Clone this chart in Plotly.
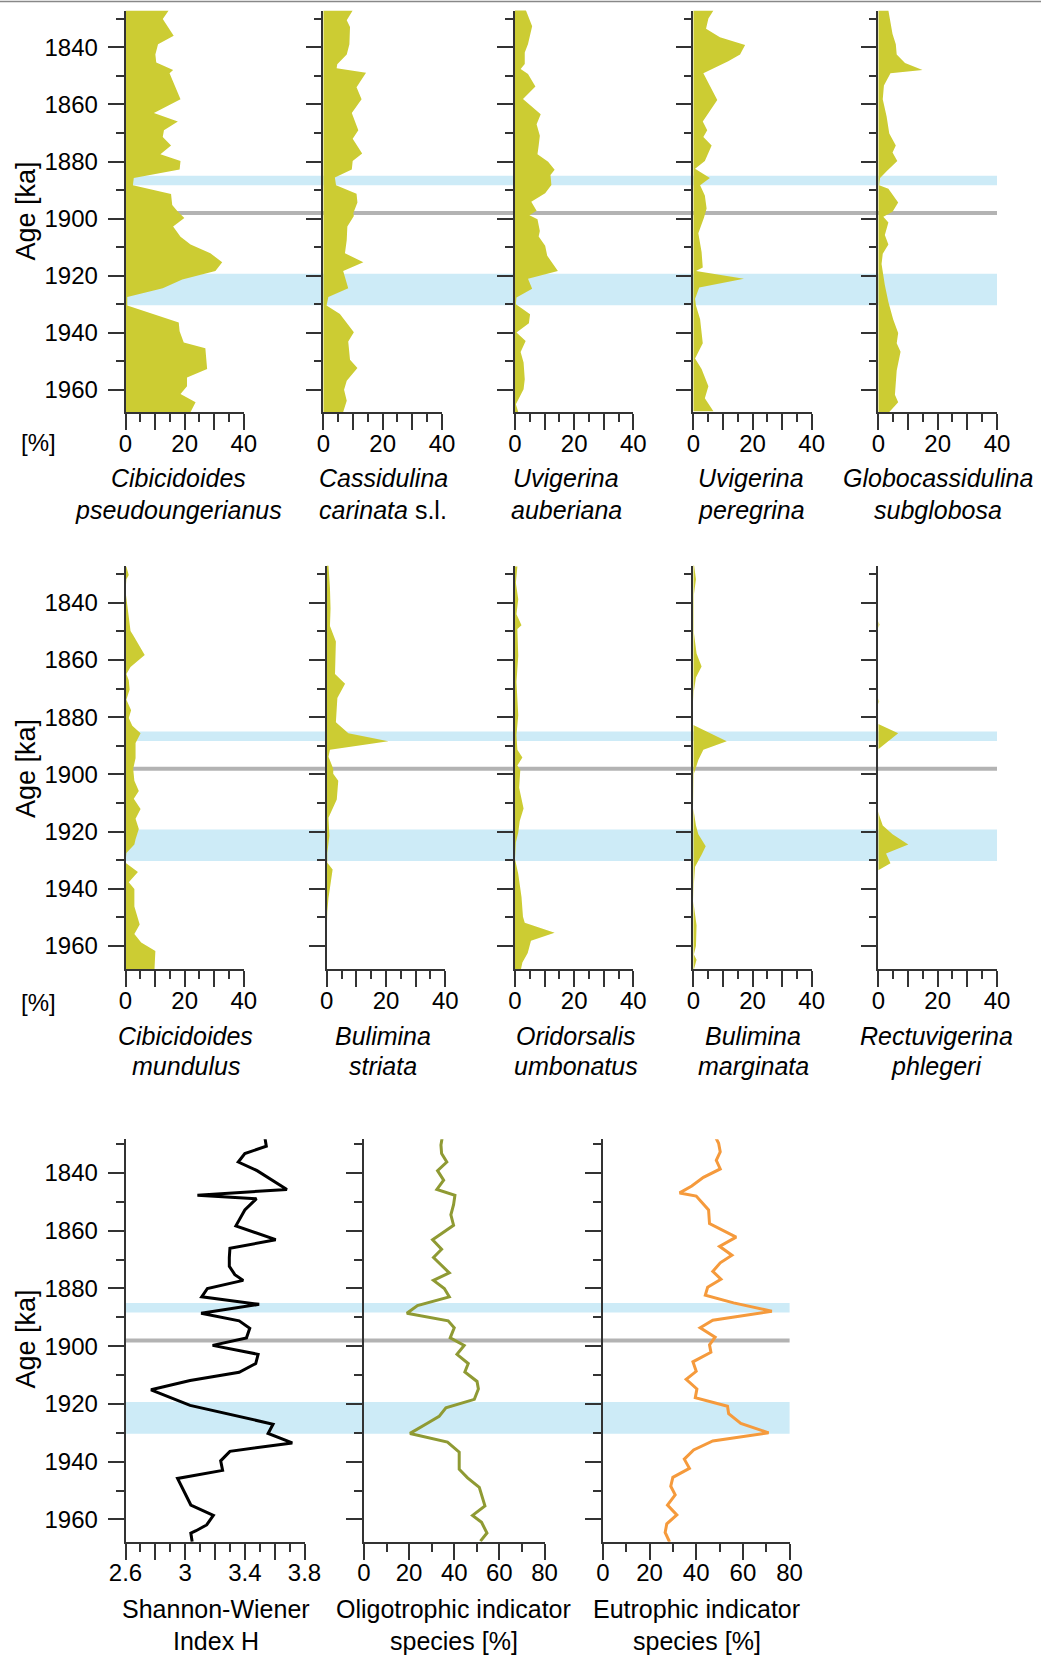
import plotly.graph_objects as go

# ---------------- data: benthic foraminifera percentages vs. age [ka] ----------------
age_c_pseudo = [1827.1, 1830.1, 1835.9, 1838.9, 1842.5, 1845.3, 1847.9, 1849.1, 1858.2, 1863.0,
                1866.0, 1869.0, 1871.4, 1874.4, 1877.4, 1879.8, 1882.8, 1885.8, 1888.3, 1891.4,
                1895.2, 1897.3, 1899.8, 1902.7, 1906.3, 1909.0, 1912.1, 1915.3, 1918.3, 1921.3,
                1924.4, 1927.4, 1930.4, 1933.4, 1936.4, 1939.4, 1943.4, 1945.4, 1952.6, 1955.6,
                1958.7, 1961.4, 1964.3, 1967.7]
pct_c_pseudo = [14.6, 12.6, 16.3, 11.0, 10.1, 10.4, 16.1, 14.9, 18.6, 9.6,
                17.7, 13.0, 12.6, 15.4, 11.8, 18.6, 18.3, 2.8, 2.5, 15.4,
                15.8, 17.5, 19.9, 16.1, 18.6, 22.0, 28.7, 32.7, 30.4, 19.2,
                12.6, 0.6, 0.6, 9.6, 18.0, 18.3, 19.7, 27.0, 27.6, 20.8,
                20.8, 18.6, 23.7, 22.0]

age_c_carinata = [1827.1, 1830.5, 1832.9, 1838.9, 1842.5, 1845.9, 1847.3, 1848.9, 1854.0, 1858.2,
                  1863.0, 1869.0, 1872.0, 1877.2, 1879.8, 1882.8, 1885.6, 1888.3, 1891.3, 1894.3,
                  1898.1, 1899.1, 1902.7, 1907.5, 1912.1, 1915.3, 1918.3, 1924.4, 1927.4, 1930.4,
                  1933.4, 1939.8, 1943.0, 1949.4, 1952.3, 1956.8, 1959.9, 1963.8, 1967.7]
pct_c_carinata = [9.9, 7.9, 9.0, 8.8, 7.9, 4.7, 4.5, 14.4, 11.2, 12.9,
                  9.6, 11.8, 9.9, 13.1, 9.9, 9.6, 3.9, 4.3, 11.2, 11.5,
                  10.1, 10.3, 8.1, 7.9, 7.3, 13.5, 6.7, 8.4, 1.7, 1.1,
                  5.6, 10.3, 8.4, 9.0, 11.5, 7.9, 7.0, 7.9, 6.7]

age_u_auberiana = [1826.8, 1832.6, 1838.8, 1841.8, 1845.8, 1847.6, 1849.3, 1853.7, 1858.1, 1863.4,
                   1866.9, 1871.0, 1874.5, 1877.4, 1880.1, 1882.9, 1884.7, 1888.2, 1891.1, 1894.1,
                   1897.2, 1898.8, 1900.2, 1904.3, 1906.2, 1909.5, 1913.0, 1918.3, 1921.0, 1924.5,
                   1927.6, 1930.0, 1933.5, 1936.6, 1939.9, 1942.8, 1946.7, 1950.4, 1956.2, 1959.7,
                   1965.0, 1967.7]
pct_u_auberiana = [3.6, 5.8, 4.4, 3.3, 3.3, 1.9, 4.4, 6.9, 2.7, 8.7,
                   7.3, 8.4, 8.0, 7.6, 11.2, 13.4, 12.0, 12.3, 10.2, 5.5,
                   7.3, 4.9, 7.6, 8.4, 8.0, 10.2, 10.9, 14.5, 4.4, 5.8,
                   0.5, 0.3, 5.1, 4.7, 0.5, 3.6, 1.9, 2.9, 3.3, 2.9,
                   0.3, 1.1]

age_u_peregrina = [1827.1, 1829.9, 1833.5, 1836.5, 1839.2, 1842.5, 1844.9, 1847.3, 1849.1, 1858.4,
                   1866.0, 1869.0, 1871.4, 1874.4, 1879.8, 1882.5, 1885.8, 1888.3, 1891.9, 1896.4,
                   1899.7, 1905.1, 1911.7, 1917.1, 1918.3, 1921.0, 1924.1, 1928.0, 1930.4, 1935.2,
                   1943.6, 1949.0, 1952.6, 1958.7, 1962.9, 1967.4]
pct_u_peregrina = [6.8, 5.1, 4.3, 9.0, 17.5, 15.8, 11.8, 7.3, 3.4, 8.1,
                   3.2, 4.7, 3.4, 6.2, 3.9, 0.6, 5.6, 2.3, 3.9, 4.5,
                   3.6, 1.7, 2.8, 3.2, 0.9, 17.1, 2.0, 0.6, 0.9, 2.3,
                   3.2, 0.6, 2.8, 5.1, 3.9, 6.8]

age_g_subglobosa = [1827.1, 1835.3, 1838.9, 1842.5, 1845.5, 1847.9, 1849.1, 1853.4, 1858.2, 1864.2,
                    1870.2, 1874.4, 1876.8, 1879.8, 1883.4, 1885.8, 1888.3, 1889.5, 1894.3, 1897.6,
                    1899.3, 1901.3, 1905.7, 1909.0, 1912.3, 1915.9, 1923.2, 1929.2, 1935.2, 1940.0,
                    1943.6, 1946.6, 1953.2, 1958.3, 1961.7, 1964.3, 1967.7]
pct_g_subglobosa = [3.4, 4.8, 5.9, 6.2, 9.0, 14.9, 4.1, 1.9, 1.5, 2.8,
                    3.7, 5.9, 4.8, 6.4, 2.8, 0.6, 0.3, 3.4, 6.7, 4.8,
                    1.7, 3.4, 2.2, 3.4, 1.5, 1.1, 2.2, 3.4, 5.0, 6.7,
                    6.2, 7.5, 6.2, 5.9, 5.6, 6.7, 3.7]

age_c_mundulus = [1827.4, 1830.3, 1831.8, 1836.0, 1840.8, 1849.9, 1851.7, 1858.3, 1862.5, 1864.9,
                  1867.1, 1870.3, 1873.9, 1877.6, 1880.3, 1883.0, 1885.6, 1889.0, 1894.4, 1898.0,
                  1902.2, 1905.8, 1908.5, 1912.1, 1915.5, 1919.1, 1922.7, 1924.5, 1927.5, 1930.9,
                  1934.1, 1937.7, 1940.1, 1946.2, 1952.5, 1955.8, 1958.8, 1961.8, 1968.2]
pct_c_mundulus = [0.3, 1.1, 0.3, 0.0, 0.6, 1.7, 2.8, 6.5, 1.7, 0.3,
                  1.1, 1.4, 0.3, 1.9, 1.1, 2.3, 5.1, 3.4, 3.4, 2.6,
                  3.0, 4.5, 2.8, 5.1, 3.4, 4.5, 3.4, 3.0, 0.3, 0.0,
                  4.2, 1.1, 3.0, 3.0, 4.8, 3.0, 5.3, 10.1, 9.8]

age_b_striata = [1827.0, 1834.8, 1842.0, 1848.1, 1853.5, 1864.9, 1868.3, 1873.3, 1881.8, 1885.6,
                 1888.4, 1891.4, 1893.8, 1898.0, 1899.8, 1902.2, 1908.8, 1915.2, 1921.5, 1927.5,
                 1930.9, 1933.3, 1943.2, 1948.0, 1955.2, 1968.2]
pct_b_striata = [0.6, 1.1, 1.3, 1.1, 3.1, 2.8, 6.2, 3.6, 3.1, 7.3,
                 20.8, 1.1, 0.6, 2.2, 2.2, 3.9, 3.4, 0.6, 0.9, 0.2,
                 0.2, 2.0, 0.6, 0.2, 0.0, 0.0]

age_o_umbonatus = [1827.3, 1833.1, 1838.8, 1844.0, 1847.9, 1849.2, 1858.5, 1867.7, 1879.3, 1886.2,
                   1891.4, 1894.1, 1896.9, 1898.4, 1904.7, 1911.9, 1916.3, 1920.3, 1923.8, 1929.6,
                   1934.8, 1942.9, 1949.8, 1951.9, 1955.4, 1958.2, 1962.5, 1965.8, 1968.2]
pct_o_umbonatus = [0.8, 0.3, 1.1, 0.5, 2.2, 0.8, 1.1, 0.5, 1.1, 0.5,
                   0.8, 2.5, 0.8, 1.8, 1.4, 2.9, 1.6, 1.1, 0.3, 0.0,
                   1.1, 2.2, 2.7, 3.3, 13.4, 5.4, 4.3, 2.5, 2.0]

age_b_marginata = [1826.4, 1831.8, 1837.2, 1850.5, 1857.7, 1862.3, 1866.1, 1870.9, 1874.5, 1882.7,
                   1888.4, 1891.4, 1895.0, 1899.8, 1911.9, 1917.9, 1920.9, 1925.1, 1928.1, 1932.3,
                   1938.3, 1944.4, 1952.8, 1960.0, 1963.0, 1964.8, 1968.2]
pct_b_marginata = [0.2, 0.9, 0.2, 0.2, 1.1, 2.8, 0.9, 0.2, 0.0, 0.0,
                   11.3, 3.4, 1.7, 0.2, 0.0, 0.9, 1.7, 4.2, 2.8, 0.6,
                   0.2, 0.0, 1.1, 0.9, 0.2, 1.1, 0.2]

age_r_phlegeri = [1827.0, 1846.5, 1847.6, 1848.8, 1873.5, 1874.5, 1875.5, 1882.4, 1885.6, 1888.7,
                  1891.2, 1913.0, 1914.3, 1917.9, 1920.9, 1924.5, 1927.7, 1931.1, 1933.5, 1968.2]
pct_r_phlegeri = [0.0, 0.0, 0.4, 0.0, 0.0, 0.3, 0.0, 0.0, 6.7, 2.8,
                  0.0, 0.0, 0.3, 1.5, 4.8, 10.1, 2.6, 4.1, 0.0, 0.0]

# Shannon-Wiener diversity index H
age_shannon = [1827.3, 1830.7, 1833.3, 1836.2, 1839.2, 1845.7, 1847.7, 1848.9, 1852.8, 1858.3,
               1863.1, 1866.1, 1869.3, 1872.3, 1875.2, 1877.2, 1880.0, 1882.9, 1885.5, 1888.6,
               1891.2, 1893.8, 1897.1, 1899.7, 1902.8, 1906.0, 1909.0, 1911.9, 1915.1, 1920.5,
               1927.0, 1930.2, 1933.5, 1936.4, 1939.7, 1943.0, 1945.8, 1950.9, 1955.0, 1958.6,
               1961.9, 1963.9, 1964.7, 1967.7]
val_shannon = [3.533, 3.544, 3.400, 3.356, 3.482, 3.682, 3.082, 3.478, 3.400, 3.340,
               3.607, 3.300, 3.296, 3.296, 3.333, 3.389, 3.149, 3.111, 3.496, 3.107,
               3.362, 3.433, 3.411, 3.184, 3.489, 3.473, 3.362, 3.033, 2.771, 3.033,
               3.589, 3.556, 3.718, 3.300, 3.238, 3.251, 2.949, 3.000, 3.038, 3.189,
               3.144, 3.073, 3.038, 3.047]

age_oligo = [1827.1, 1830.3, 1833.3, 1836.2, 1839.2, 1842.5, 1845.7, 1847.7, 1851.0, 1854.5,
             1858.1, 1863.1, 1866.4, 1869.3, 1874.6, 1877.2, 1880.0, 1882.9, 1885.9, 1888.6,
             1891.2, 1893.6, 1897.1, 1899.7, 1902.8, 1906.0, 1908.9, 1912.2, 1914.8, 1918.4,
             1921.3, 1924.3, 1926.7, 1930.2, 1933.2, 1936.7, 1942.6, 1945.6, 1948.9, 1955.3,
             1958.6, 1961.0, 1964.7, 1967.5]
pct_oligo = [34.8, 34.1, 34.4, 36.7, 32.6, 35.3, 32.3, 40.3, 39.7, 38.5,
             39.7, 30.4, 34.4, 30.8, 37.8, 30.8, 35.6, 37.8, 23.7, 19.0,
             37.3, 40.0, 38.2, 44.4, 41.2, 46.2, 44.7, 50.1, 50.7, 48.9,
             36.3, 33.3, 28.1, 20.4, 37.0, 42.2, 42.2, 45.9, 51.1, 53.6,
             48.1, 52.1, 54.5, 51.6]

age_eutro = [1826.2, 1829.7, 1832.7, 1835.6, 1838.6, 1841.5, 1844.5, 1846.9, 1848.0, 1852.8,
             1857.5, 1862.2, 1865.4, 1868.5, 1871.1, 1874.1, 1876.8, 1879.6, 1882.3, 1885.0,
             1887.9, 1891.0, 1893.6, 1896.9, 1899.5, 1902.1, 1905.4, 1908.7, 1911.5, 1914.8,
             1917.8, 1920.8, 1923.4, 1926.7, 1930.0, 1932.8, 1935.9, 1939.1, 1942.3, 1945.4,
             1948.5, 1951.5, 1955.0, 1958.4, 1961.5, 1964.5, 1967.8]
pct_eutro = [47.4, 49.6, 50.3, 48.6, 50.3, 43.1, 38.1, 32.9, 40.0, 45.3,
             45.7, 57.1, 50.0, 55.3, 50.3, 47.1, 50.6, 44.9, 43.9, 56.0,
             72.4, 47.1, 41.7, 48.1, 45.7, 46.3, 38.6, 40.0, 35.7, 40.3,
             39.6, 53.4, 53.9, 59.1, 71.0, 47.1, 38.9, 34.9, 37.1, 30.0,
             29.1, 31.0, 27.7, 31.7, 27.4, 26.7, 28.6]

# highlighted intervals [ka] and the marker line
blue_bands = [(1885.0, 1888.3), (1919.3, 1930.3)]
gray_line_age = 1898.0

species_row1 = [("<i>Cibicidoides</i>", "<i>pseudoungerianus</i>"),
                ("<i>Cassidulina</i>", "<i>carinata</i> s.l."),
                ("<i>Uvigerina</i>", "<i>auberiana</i>"),
                ("<i>Uvigerina</i>", "<i>peregrina</i>"),
                ("<i>Globocassidulina</i>", "<i>subglobosa</i>")]
species_row2 = [("<i>Cibicidoides</i>", "<i>mundulus</i>"),
                ("<i>Bulimina</i>", "<i>striata</i>"),
                ("<i>Oridorsalis</i>", "<i>umbonatus</i>"),
                ("<i>Bulimina</i>", "<i>marginata</i>"),
                ("<i>Rectuvigerina</i>", "<i>phlegeri</i>")]
titles_row3 = [("Shannon-Wiener", "Index H"),
               ("Oligotrophic indicator", "species [%]"),
               ("Eutrophic indicator", "species [%]")]

row1_series = [(age_c_pseudo, pct_c_pseudo), (age_c_carinata, pct_c_carinata),
               (age_u_auberiana, pct_u_auberiana), (age_u_peregrina, pct_u_peregrina),
               (age_g_subglobosa, pct_g_subglobosa)]
row2_series = [(age_c_mundulus, pct_c_mundulus), (age_b_striata, pct_b_striata),
               (age_o_umbonatus, pct_o_umbonatus), (age_b_marginata, pct_b_marginata),
               (age_r_phlegeri, pct_r_phlegeri)]

# ---------------- layout geometry (pixels on a 1041 x 1656 page) ----------------
W, H = 1041, 1656
FONT = "Liberation Sans, Arial, sans-serif"
AX = "#333333"
FILL = "#CCCC33"
BLUE = "#CDEBF7"
GRAY = "#B3B3B3"
TICK_SIZE = 24
NAME_SIZE = 25


def fx(p):
    return p / W


def fy(p):
    return 1 - p / H


rows = [
    dict(top=10.5, bot=412.0, a0=1827.1, a1=1967.7,
         xs=[(125.5, 243.8), (323.3, 442.0), (515, 633.3), (693.3, 811.7), (878.3, 997.0)],
         tick_y=442, name_y=(478, 510), band_right=997.0, agelab_y=211),
    dict(top=565.6, bot=969.4, a0=1827.0, a1=1968.2,
         xs=[(125.5, 243.8), (326.7, 445.3), (515, 633.3), (693.3, 811.7), (878.3, 997.0)],
         tick_y=1002, name_y=(1036, 1066), band_right=997.0, agelab_y=768.5),
    dict(top=1139.2, bot=1541.7, a0=1828.3, a1=1967.7,
         xs=[(125.5, 304.5), (364.0, 544.5), (602.8, 789.6)],
         tick_y=1571, name_y=(1609, 1641), band_right=789.6, agelab_y=1339),
]
name_x = [[178, 383, 566, 751, 938.3],
          [185.5, 383, 575.5, 753, 936.5],
          [215.5, 453.5, 696.7]]

fig = go.Figure()
layout = dict(width=W, height=H,
              margin=dict(l=0, r=0, t=0, b=0, pad=0, autoexpand=False),
              paper_bgcolor="white", plot_bgcolor="rgba(0,0,0,0)",
              showlegend=False, font=dict(family=FONT, size=TICK_SIZE, color="black"))
shapes = []
annotations = []

ytickvals = [1840, 1860, 1880, 1900, 1920, 1940, 1960]
yminor = [1830, 1850, 1870, 1890, 1910, 1930, 1950]

idx = 0
for r, row in enumerate(rows):
    first_y_name = None
    for c, (x0, x1) in enumerate(row["xs"]):
        idx += 1
        xa = "xaxis" if idx == 1 else f"xaxis{idx}"
        ya = "yaxis" if idx == 1 else f"yaxis{idx}"
        xr = "x" if idx == 1 else f"x{idx}"
        yr = "y" if idx == 1 else f"y{idx}"
        if first_y_name is None:
            first_y_name = yr

        if r < 2:
            xrange = [0, 40]
            xt = [0, 10, 20, 30, 40]
            xtt = ["0", "", "20", "", "40"]
            xm = [5, 15, 25, 35]
        elif c == 0:
            xrange = [2.6, 3.8]
            xt = [2.6, 2.8, 3.0, 3.2, 3.4, 3.6, 3.8]
            xtt = ["2.6", "", "3", "", "3.4", "", "3.8"]
            xm = [2.7, 2.9, 3.1, 3.3, 3.5, 3.7]
        else:
            xrange = [0, 80]
            xt = [0, 20, 40, 60, 80]
            xtt = ["0", "20", "40", "60", "80"]
            xm = [10, 30, 50, 70]

        layout[xa] = dict(domain=[fx(x0), fx(x1)], range=xrange, anchor=yr,
                          showgrid=False, zeroline=False, showline=True,
                          linecolor=AX, linewidth=1.6, ticks="outside", ticklen=16,
                          tickwidth=1.6, tickcolor=AX, tickmode="array",
                          tickvals=xt, ticktext=xtt, ticklabelstandoff=-7,
                          tickfont=dict(size=TICK_SIZE, color="black", family=FONT),
                          minor=dict(tickmode="array", tickvals=xm, ticks="outside",
                                     ticklen=8, tickwidth=1.6, tickcolor=AX),
                          fixedrange=True)
        layout[ya] = dict(domain=[fy(row["bot"]), fy(row["top"])],
                          range=[row["a1"], row["a0"]], anchor=xr,
                          showgrid=False, zeroline=False, showline=True,
                          linecolor=AX, linewidth=1.6, ticks="outside", ticklen=16,
                          tickwidth=1.6, tickcolor=AX, tickmode="array",
                          tickvals=ytickvals, ticktext=[str(v) for v in ytickvals],
                          showticklabels=(c == 0), ticklabelstandoff=5,
                          tickfont=dict(size=TICK_SIZE, color="black", family=FONT),
                          minor=dict(tickmode="array", tickvals=yminor, ticks="outside",
                                     ticklen=8, tickwidth=1.6, tickcolor=AX),
                          fixedrange=True)

        if r < 2:
            ages, vals = (row1_series if r == 0 else row2_series)[c]
            fig.add_trace(go.Scatter(x=vals, y=ages, xaxis=xr, yaxis=yr, mode="lines",
                                     line=dict(width=0, color=FILL), fill="tozerox",
                                     fillcolor=FILL, hoverinfo="skip"))
        else:
            if c == 0:
                fig.add_trace(go.Scatter(x=val_shannon, y=age_shannon, xaxis=xr, yaxis=yr,
                                         mode="lines", line=dict(width=3, color="black")))
            elif c == 1:
                fig.add_trace(go.Scatter(x=pct_oligo, y=age_oligo, xaxis=xr, yaxis=yr,
                                         mode="lines", line=dict(width=3, color="#8F9A33")))
            else:
                fig.add_trace(go.Scatter(x=pct_eutro, y=age_eutro, xaxis=xr, yaxis=yr,
                                         mode="lines", line=dict(width=3, color="#F59A3C")))

        # panel captions
        names = (species_row1, species_row2, titles_row3)[r][c]
        for k, line in enumerate(names):
            annotations.append(dict(text=line, x=fx(name_x[r][c]), y=fy(row["name_y"][k]),
                                    xref="paper", yref="paper", showarrow=False,
                                    xanchor="center", yanchor="middle",
                                    font=dict(size=NAME_SIZE, color="black", family=FONT)))

    # highlighted intervals, spanning the whole row of panels
    for b0, b1 in blue_bands:
        shapes.append(dict(type="rect", xref="paper", yref=first_y_name,
                           x0=fx(row["xs"][0][0]), x1=fx(row["band_right"]),
                           y0=b0, y1=b1, fillcolor=BLUE, line=dict(width=0),
                           layer="below"))
    shapes.append(dict(type="line", xref="paper", yref=first_y_name,
                       x0=fx(row["xs"][0][0]), x1=fx(row["band_right"]),
                       y0=gray_line_age, y1=gray_line_age,
                       line=dict(color=GRAY, width=4), layer="below"))

    # row axis titles
    annotations.append(dict(text="Age [ka]", x=fx(25.5), y=fy(row["agelab_y"]),
                            xref="paper", yref="paper", showarrow=False, textangle=-90,
                            xanchor="center", yanchor="middle",
                            font=dict(size=27, color="black", family=FONT)))
    if r < 2:
        annotations.append(dict(text="[%]", x=fx(38.5), y=fy(row["tick_y"]),
                                xref="paper", yref="paper", showarrow=False,
                                xanchor="center", yanchor="middle",
                                font=dict(size=TICK_SIZE, color="black", family=FONT)))

# thin rule along the top edge of the page
shapes.append(dict(type="line", xref="paper", yref="paper", x0=0, x1=1,
                   y0=fy(1.5), y1=fy(1.5), line=dict(color="#888888", width=1.5)))

layout["shapes"] = shapes
layout["annotations"] = annotations
fig.update_layout(**layout)
fig.write_html("out.html", config={"displayModeBar": False})
